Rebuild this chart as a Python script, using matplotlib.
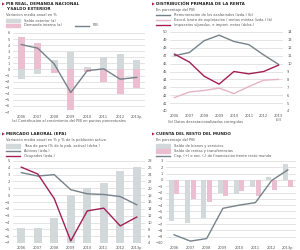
import matplotlib.pyplot as plt
import numpy as np
from matplotlib.patches import Rectangle
from matplotlib.lines import Line2D

# Datos
anios = ['2006', '2007', '2008', '2009', '2010', '2011', '2012', '2013p']
anios_renta = ['2006', '2007', '2008', '2009', '2010', '2011', '2012', '2013\nI-III']

saldo_exterior = [-1.5, -0.8, 1.5, 2.9, 0.4, 2.1, 2.5, 1.5]
demanda_interna = [5.3, 4.3, -0.6, -6.7, -0.5, -2.0, -4.1, -3.0]
pib = [4.1, 3.5, 0.9, -3.8, -0.2, 0.1, -1.6, -1.3]

remuneracion = [47.0, 47.4, 48.9, 49.6, 48.8, 48.4, 47.1, 45.9]
excedente = [41.7, 42.4, 42.6, 42.9, 42.2, 43.1, 43.9, 44.0]
impuestos = [11.2, 10.2, 8.4, 7.4, 9.0, 8.7, 9.0, 9.8]

tasa_paro = [8.5, 8.3, 11.3, 18.0, 20.1, 21.6, 25.0, 26.2]
activos = [3.3, 2.8, 3.0, 0.8, 0.2, 0.1, -0.2, -1.4]
ocupados = [4.1, 3.1, -0.5, -6.7, -2.3, -1.9, -4.5, -3.2]

saldo_bienes = [-6.5, -6.9, -6.0, -2.1, -2.3, -1.2, 0.5, 2.5]
saldo_rentas = [-2.2, -3.0, -3.5, -2.6, -1.8, -2.5, -1.6, -1.2]
capacidad = [-8.7, -9.7, -9.3, -4.5, -4.0, -3.6, -0.1, 1.6]

# Colores
GRIS_BARRA = '#d3d8db'
ROSA_BARRA = '#ebbfd0'
GRIS_LINEA = '#75828a'
GRANATE = '#a21f55'
ROSA_LINEA = '#e6b3c6'
TEXTO = '#555555'

FS = 2.6
FT = 3.0

fig = plt.figure(figsize=(3, 2.5), dpi=100)


def ejes(izq, arr, der, abajo):
    return fig.add_axes([izq / 300, 1 - abajo / 250, (der - izq) / 300, (abajo - arr) / 250])


def estilo(ax, etiquetas):
    for s in ax.spines.values():
        s.set_visible(False)
    ax.set_xticks(np.arange(len(etiquetas)))
    ax.set_xticklabels(etiquetas)
    ax.tick_params(axis='both', length=0, labelsize=FS, labelcolor=TEXTO, pad=2)
    ax.yaxis.grid(True, color='#cfcfcf', lw=0.4)
    ax.set_axisbelow(True)


def titulo(x, y, texto):
    fig.text(x / 300, 1 - y / 250, '\u25b6', color=GRANATE, fontsize=2.6, va='center', ha='left')
    fig.text((x + 4) / 300, 1 - y / 250, texto, color='#222222', fontsize=FT,
             fontweight='bold', va='center', ha='left')


def texto(x, y, t):
    fig.text(x / 300, 1 - y / 250, t, color=TEXTO, fontsize=FS, va='center', ha='left')


def leyenda(x, y, tipo, color, t):
    if tipo == 'barra':
        fig.patches.append(Rectangle((x / 300, 1 - (y + 1.8) / 250), 14 / 300, 3.6 / 250,
                                     color=color, transform=fig.transFigure))
    else:
        fig.lines.append(Line2D([x / 300, (x + 14) / 300], [1 - y / 250, 1 - y / 250],
                                color=color, lw=1.0, transform=fig.transFigure))
    texto(x + 18, y, t)


x = np.arange(len(anios))

# Panel 1: PIB real, demanda nacional y saldo exterior
ax1 = ejes(13, 33, 145, 112)
ax1.bar(x, saldo_exterior, 0.4, color=GRIS_BARRA, zorder=2)
ax1.bar(x, demanda_interna, 0.4, color=ROSA_BARRA, zorder=2)
ax1.plot(x, pib, color=GRIS_LINEA, lw=1.0, zorder=3)
ax1.set_ylim(-7, 6)
ax1.set_yticks(range(-7, 7))
ax1.set_xlim(-0.5, 7.5)
estilo(ax1, anios)

titulo(2, 4, 'PIB REAL, DEMANDA NACIONAL')
fig.text(6 / 300, 1 - 9.5 / 250, 'Y SALDO EXTERIOR', color='#222222', fontsize=FT,
         fontweight='bold', va='center', ha='left')
texto(6, 15, 'Variación media anual en %')
leyenda(6, 20.5, 'barra', GRIS_BARRA, 'Saldo exterior (a)')
leyenda(6, 25.5, 'barra', ROSA_BARRA, 'Demanda interna (a)')
leyenda(75, 25.5, 'linea', GRIS_LINEA, 'PIB')
texto(12, 121, '(a) Contribución al crecimiento del PIB en puntos porcentuales')

# Panel 2: distribución primaria de la renta
ax2 = ejes(170, 32, 283, 111)
ax2.plot(x, remuneracion, color=GRIS_LINEA, lw=1.0, zorder=3)
ax2.plot(x, excedente, color=ROSA_LINEA, lw=1.0, zorder=3)
ax2.set_ylim(40, 50)
ax2.set_yticks(range(40, 51))
ax2.set_xlim(-0.3, 7.3)
estilo(ax2, anios_renta)
ax2b = ax2.twinx()
ax2b.plot(x, impuestos, color=GRANATE, lw=1.0, zorder=3)
ax2b.set_ylim(4, 14)
ax2b.set_yticks(range(4, 15))
for s in ax2b.spines.values():
    s.set_visible(False)
ax2b.tick_params(axis='y', length=0, labelsize=FS, labelcolor=TEXTO, pad=3)

titulo(152, 4, 'DISTRIBUCIÓN PRIMARIA DE LA RENTA')
texto(156, 10, 'En porcentaje del PIB')
leyenda(156, 15, 'linea', GRIS_LINEA, 'Remuneración de los asalariados (izda.) (b)')
leyenda(156, 20, 'linea', ROSA_LINEA, 'Exced. bruto de explotación / rentas mixtas (izda.) (b)')
leyenda(156, 25, 'linea', GRANATE, 'Impuestos s/produc. e import. netos (dcha.)')
texto(168, 122, '(b) Datos desestacionalizados corregidos')

# Panel 3: mercado laboral (EPA)
ax3 = ejes(13, 161, 145, 243)
ax3b = ax3.twinx()
ax3b.bar(x, tasa_paro, 0.5, color=GRIS_BARRA, zorder=2)
ax3b.set_ylim(4, 28)
ax3b.set_yticks(range(4, 29, 2))
for s in ax3b.spines.values():
    s.set_visible(False)
ax3b.tick_params(axis='y', length=0, labelsize=FS, labelcolor=TEXTO, pad=2)
ax3b.yaxis.grid(True, color='#cfcfcf', lw=0.4)
ax3b.set_axisbelow(True)
ax3.plot(x, activos, color=GRIS_LINEA, lw=1.0, zorder=3)
ax3.plot(x, ocupados, color=GRANATE, lw=1.0, zorder=3)
ax3.set_ylim(-7, 5)
ax3.set_yticks(range(-7, 6))
ax3.set_xlim(-0.5, 7.5)
estilo(ax3, anios)
ax3.yaxis.grid(False)
ax3.set_zorder(ax3b.get_zorder() + 1)
ax3.patch.set_visible(False)

titulo(2, 134, 'MERCADO LABORAL (EPA)')
texto(6, 140, 'Variación media anual en % y % de la población activa')
leyenda(6, 146, 'barra', GRIS_BARRA, 'Tasa de paro (% de la pob. activa) (dcha.)')
leyenda(6, 151, 'linea', GRIS_LINEA, 'Activos (izda.)')
leyenda(6, 156, 'linea', GRANATE, 'Ocupados (izda.)')

# Panel 4: cuenta del resto del mundo
ax4 = ejes(166, 161, 296, 243)
ax4.bar(x - 0.17, saldo_bienes, 0.3, color=GRIS_BARRA, zorder=2)
ax4.bar(x + 0.17, saldo_rentas, 0.3, color=ROSA_BARRA, zorder=2)
ax4.plot(x, capacidad, color=GRIS_LINEA, lw=1.0, zorder=3)
ax4.set_ylim(-10, 3)
ax4.set_yticks(range(-10, 4))
ax4.set_xlim(-0.5, 7.5)
estilo(ax4, anios)

titulo(152, 134, 'CUENTA DEL RESTO DEL MUNDO')
texto(156, 140, 'En porcentaje del PIB')
leyenda(156, 146, 'barra', GRIS_BARRA, 'Saldo de bienes y servicios')
leyenda(156, 151, 'barra', ROSA_BARRA, 'Saldo de rentas y transferencias')
leyenda(156, 156, 'linea', GRIS_LINEA, 'Cap. (+) o nec. (-) de financiación frente resto mundo')

fig.savefig('out.png', dpi=100)
